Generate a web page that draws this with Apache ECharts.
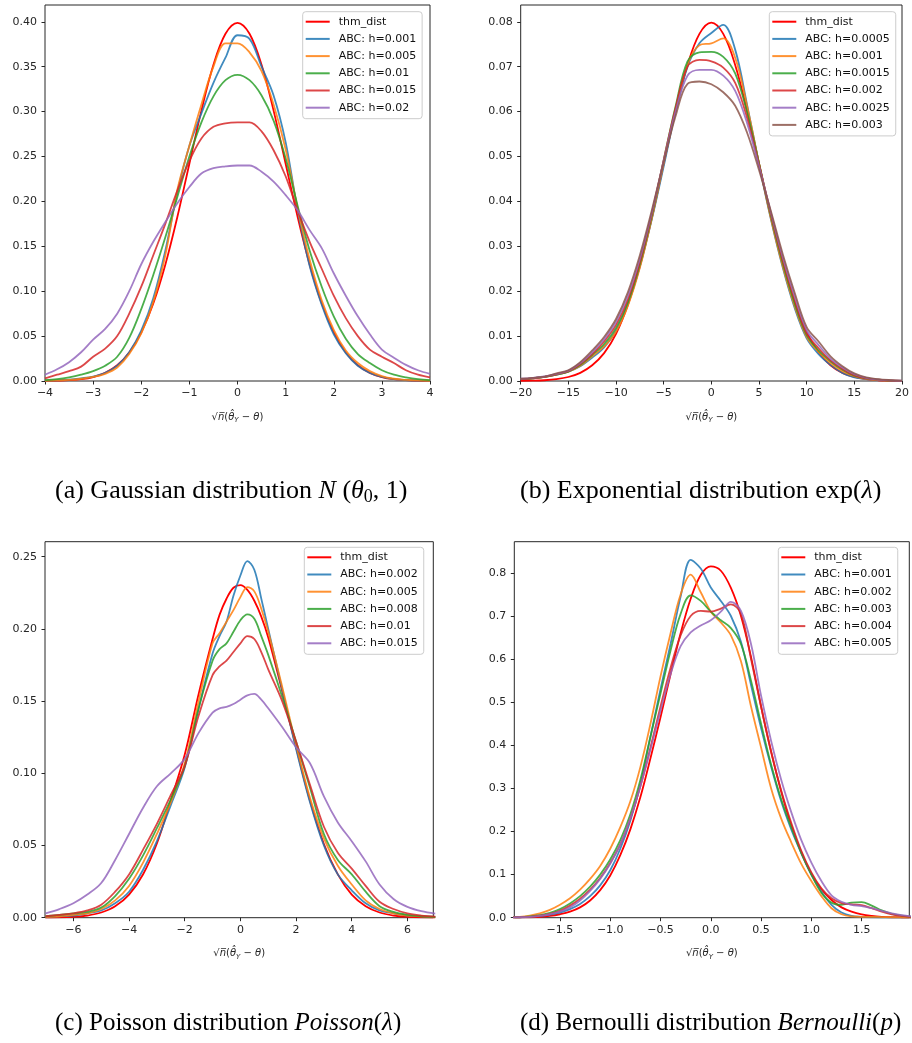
<!DOCTYPE html>
<html><head><meta charset="utf-8">
<script src="https://cdn.jsdelivr.net/npm/echarts@6/dist/echarts.min.js"></script>
<style>html,body{margin:0;padding:0;background:#fff}#c{width:912px;height:1043px}</style>
</head><body><div id="c"></div>
<script>
// ---------- (a) Gaussian ----------
const xsA = [-4,-3.75,-3.5,-3.25,-3,-2.75,-2.5,-2.25,-2,-1.75,-1.5,-1.25,-1,-0.75,-0.5,-0.25,0,0.25,0.5,0.75,1,1.25,1.5,1.75,2,2.25,2.5,2.75,3,3.25,3.5,3.75,4];
const gaussThm  = [0.0001,0.0004,0.0009,0.002,0.0044,0.0091,0.0175,0.0317,0.054,0.0863,0.1295,0.1826,0.242,0.3011,0.3521,0.3867,0.3989,0.3867,0.3521,0.3011,0.242,0.1826,0.1295,0.0863,0.054,0.0317,0.0175,0.0091,0.0044,0.002,0.0009,0.0004,0.0001];
const gaussH001 = [0.0003,0.0007,0.0015,0.003,0.005,0.009,0.017,0.032,0.056,0.092,0.145,0.21,0.262,0.298,0.332,0.36,0.385,0.381,0.35,0.318,0.266,0.19,0.128,0.085,0.052,0.031,0.017,0.009,0.0045,0.002,0.001,0.0005,0.0002];
const gaussH005 = [0.0003,0.0006,0.0012,0.0025,0.0045,0.008,0.015,0.03,0.053,0.088,0.14,0.213,0.262,0.308,0.35,0.376,0.376,0.366,0.345,0.308,0.258,0.192,0.135,0.09,0.057,0.034,0.02,0.011,0.0055,0.0025,0.0012,0.0006,0.0003];
const gaussH01  = [0.001,0.002,0.004,0.007,0.011,0.017,0.027,0.048,0.08,0.118,0.16,0.205,0.25,0.288,0.317,0.335,0.341,0.335,0.318,0.29,0.248,0.195,0.145,0.105,0.072,0.047,0.03,0.02,0.012,0.007,0.004,0.002,0.001];
const gaussH015 = [0.003,0.007,0.011,0.016,0.027,0.036,0.05,0.075,0.105,0.14,0.175,0.212,0.245,0.27,0.283,0.287,0.288,0.288,0.278,0.257,0.228,0.19,0.155,0.125,0.095,0.07,0.05,0.035,0.027,0.02,0.012,0.007,0.004];
const gaussH02  = [0.007,0.013,0.021,0.032,0.046,0.058,0.075,0.1,0.13,0.155,0.177,0.198,0.216,0.231,0.237,0.239,0.24,0.24,0.233,0.222,0.207,0.19,0.168,0.148,0.12,0.095,0.072,0.052,0.035,0.026,0.018,0.012,0.008];
const gaussNames = ['thm_dist','ABC: h=0.001','ABC: h=0.005','ABC: h=0.01','ABC: h=0.015','ABC: h=0.02'];
const aXTicks = [-4,-3,-2,-1,0,1,2,3,4];
const aYTicks = [0,0.05,0.10,0.15,0.20,0.25,0.30,0.35,0.40];

// ---------- (b) Exponential ----------
const xsB = [-20,-18.75,-17.5,-16.25,-15,-13.75,-12.5,-11.25,-10,-8.75,-7.5,-6.25,-5,-3.75,-2.5,-1.25,0,1.25,2.5,3.75,5,6.25,7.5,8.75,10,11.25,12.5,13.75,15,16.25,17.5,18.75,20];
const expThm   = [0.00003,0.00007,0.00017,0.00041,0.00089,0.00182,0.0035,0.0062,0.0105,0.017,0.0256,0.0363,0.0484,0.0602,0.0704,0.0773,0.0798,0.0773,0.0704,0.0602,0.0484,0.0365,0.0259,0.0173,0.0108,0.0064,0.0035,0.0018,0.0009,0.0004,0.00017,0.00007,0.00003];
const expH0005 = [0.0004,0.0006,0.0009,0.0014,0.0021,0.0033,0.0052,0.0075,0.0112,0.0172,0.0255,0.036,0.0478,0.06,0.07,0.0752,0.0775,0.0793,0.0738,0.0615,0.0483,0.036,0.0252,0.0162,0.0095,0.006,0.0036,0.0018,0.0008,0.0004,0.0002,0.0001,0.00005];
const expH001  = [0.0004,0.0006,0.0009,0.0014,0.0021,0.0034,0.0055,0.0077,0.011,0.0168,0.0252,0.0362,0.0485,0.0605,0.0705,0.0748,0.0752,0.0763,0.072,0.0612,0.0485,0.0362,0.0255,0.0166,0.0098,0.0065,0.004,0.0022,0.0011,0.0005,0.0002,0.0001,0.00005];
const expH0015 = [0.0004,0.0006,0.0009,0.0014,0.0021,0.0036,0.0058,0.0082,0.0118,0.0175,0.026,0.0368,0.0492,0.0612,0.0712,0.0732,0.0733,0.0722,0.0685,0.0598,0.0485,0.0368,0.0262,0.0172,0.0102,0.0068,0.0044,0.0025,0.0012,0.0006,0.0003,0.0001,0.00005];
const expH002  = [0.0004,0.0006,0.0009,0.0015,0.0022,0.0038,0.006,0.0088,0.0125,0.0182,0.0265,0.0372,0.0492,0.0608,0.07,0.0715,0.0712,0.0698,0.0664,0.0586,0.0482,0.0372,0.0268,0.018,0.0106,0.0073,0.0046,0.0027,0.0013,0.0006,0.0003,0.0001,0.00005];
const expH0025 = [0.0005,0.0007,0.001,0.0016,0.0023,0.004,0.0064,0.0093,0.0132,0.019,0.0272,0.0375,0.049,0.06,0.068,0.0693,0.0693,0.068,0.0646,0.0574,0.0478,0.0375,0.0275,0.0188,0.0113,0.008,0.005,0.003,0.0015,0.0007,0.0003,0.00015,0.00006];
const expH003  = [0.0005,0.0007,0.001,0.0017,0.0024,0.0042,0.0068,0.0098,0.0138,0.0198,0.028,0.038,0.0488,0.059,0.0662,0.0667,0.0661,0.0643,0.0613,0.0553,0.047,0.0378,0.0282,0.0196,0.012,0.0088,0.0055,0.0033,0.0017,0.0008,0.0004,0.0002,0.00008];
const expNames = ['thm_dist','ABC: h=0.0005','ABC: h=0.001','ABC: h=0.0015','ABC: h=0.002','ABC: h=0.0025','ABC: h=0.003'];
const bXTicks = [-20,-15,-10,-5,0,5,10,15,20];
const bYTicks = [0,0.01,0.02,0.03,0.04,0.05,0.06,0.07,0.08];

// ---------- (c) Poisson ----------
const xsC = [-7,-6.5,-6,-5.5,-5,-4.5,-4,-3.5,-3,-2.5,-2,-1.5,-1,-0.75,-0.5,-0.25,0,0.25,0.5,0.75,1,1.5,2,2.5,3,3.5,4,4.5,5,5.5,6,6.5,7];
const poisThm  = [0.0001,0.0002,0.0006,0.0015,0.0036,0.0079,0.016,0.0299,0.0514,0.0813,0.113,0.155,0.193,0.2097,0.2209,0.2285,0.2303,0.227,0.2195,0.2085,0.194,0.157,0.118,0.081,0.051,0.03,0.016,0.008,0.0036,0.0015,0.0006,0.0002,0.0001];
const poisH002 = [0.0005,0.001,0.0015,0.003,0.005,0.01,0.018,0.033,0.053,0.078,0.104,0.145,0.183,0.195,0.205,0.223,0.237,0.247,0.241,0.221,0.2,0.158,0.117,0.08,0.05,0.03,0.019,0.01,0.005,0.003,0.0015,0.001,0.0005];
const poisH005 = [0.0005,0.001,0.002,0.003,0.006,0.012,0.022,0.038,0.058,0.08,0.107,0.15,0.19,0.197,0.205,0.213,0.222,0.229,0.226,0.214,0.198,0.16,0.12,0.083,0.055,0.036,0.023,0.012,0.006,0.003,0.0015,0.001,0.0005];
const poisH008 = [0.001,0.002,0.003,0.004,0.007,0.015,0.027,0.043,0.062,0.082,0.105,0.145,0.178,0.186,0.19,0.198,0.206,0.21,0.207,0.195,0.182,0.153,0.122,0.09,0.058,0.04,0.03,0.018,0.008,0.004,0.002,0.001,0.0005];
const poisH01  = [0.001,0.002,0.003,0.005,0.009,0.018,0.03,0.047,0.065,0.085,0.105,0.14,0.168,0.174,0.178,0.184,0.19,0.195,0.193,0.184,0.172,0.15,0.122,0.092,0.063,0.045,0.034,0.022,0.011,0.006,0.003,0.0015,0.0007];
const poisH015 = [0.003,0.006,0.01,0.016,0.024,0.04,0.058,0.076,0.091,0.1,0.11,0.128,0.142,0.145,0.146,0.148,0.151,0.154,0.155,0.151,0.145,0.132,0.118,0.107,0.084,0.066,0.053,0.039,0.023,0.013,0.0075,0.0045,0.0028];
const poisNames = ['thm_dist','ABC: h=0.002','ABC: h=0.005','ABC: h=0.008','ABC: h=0.01','ABC: h=0.015'];
const cXTicks = [-6,-4,-2,0,2,4,6];
const cYTicks = [0,0.05,0.10,0.15,0.20,0.25];

// ---------- (d) Bernoulli ----------
const xsD = [-2,-1.9,-1.8,-1.7,-1.6,-1.5,-1.4,-1.3,-1.2,-1.1,-1,-0.9,-0.8,-0.7,-0.6,-0.5,-0.4,-0.3,-0.2,-0.1,0,0.1,0.2,0.3,0.4,0.5,0.6,0.7,0.8,0.9,1,1.1,1.2,1.3,1.4,1.5,1.6,1.7,1.8,1.9,2];
const bernThm  = [0.0002,0.0005,0.001,0.002,0.004,0.008,0.014,0.024,0.04,0.064,0.098,0.145,0.205,0.28,0.37,0.465,0.565,0.66,0.74,0.795,0.815,0.805,0.765,0.70,0.605,0.49,0.385,0.293,0.215,0.152,0.102,0.066,0.041,0.024,0.014,0.0075,0.004,0.002,0.001,0.0005,0.0002];
const bernH001 = [0.0005,0.001,0.002,0.004,0.007,0.012,0.02,0.032,0.05,0.075,0.11,0.16,0.225,0.31,0.42,0.53,0.635,0.745,0.83,0.81,0.766,0.735,0.70,0.64,0.54,0.44,0.35,0.27,0.205,0.15,0.10,0.06,0.03,0.012,0.004,0.002,0.001,0.0005,0.0003,0.0002,0.0001];
const bernH002 = [0.001,0.002,0.005,0.01,0.018,0.03,0.045,0.065,0.09,0.12,0.16,0.21,0.27,0.35,0.45,0.56,0.66,0.75,0.796,0.755,0.71,0.685,0.655,0.595,0.49,0.395,0.30,0.23,0.175,0.125,0.085,0.05,0.022,0.008,0.003,0.002,0.002,0.0015,0.001,0.0005,0.0003];
const bernH003 = [0.0005,0.001,0.003,0.006,0.011,0.02,0.033,0.05,0.072,0.1,0.135,0.18,0.24,0.32,0.42,0.52,0.62,0.705,0.748,0.735,0.71,0.69,0.672,0.635,0.55,0.45,0.355,0.275,0.21,0.15,0.1,0.058,0.035,0.03,0.035,0.036,0.028,0.017,0.009,0.005,0.002];
const bernH004 = [0.0005,0.001,0.002,0.005,0.009,0.016,0.028,0.044,0.065,0.092,0.127,0.17,0.23,0.305,0.395,0.49,0.58,0.655,0.7,0.712,0.71,0.717,0.727,0.705,0.6,0.49,0.385,0.295,0.22,0.155,0.105,0.068,0.045,0.034,0.031,0.029,0.022,0.014,0.008,0.004,0.002];
const bernH005 = [0.0005,0.001,0.002,0.004,0.008,0.014,0.024,0.04,0.062,0.09,0.125,0.17,0.23,0.305,0.39,0.48,0.565,0.63,0.662,0.678,0.69,0.71,0.733,0.712,0.635,0.515,0.41,0.32,0.245,0.18,0.128,0.085,0.052,0.037,0.03,0.027,0.022,0.016,0.01,0.006,0.003];
const bernNames = ['thm_dist','ABC: h=0.001','ABC: h=0.002','ABC: h=0.003','ABC: h=0.004','ABC: h=0.005'];
const dXTicks = [-1.5,-1.0,-0.5,0,0.5,1.0,1.5];
const dYTicks = [0,0.1,0.2,0.3,0.4,0.5,0.6,0.7,0.8];

// ---------- layout / style ----------
const COLORS = ['#ff0000','#1f77b4','#ff7f0e','#2ca02c','#d62728','#9467bd','#8c564b'];
const AX = '#262626', TX = '#262626';
const panels = [
  {key:'a', xs:xsA, names:gaussNames, ys:[gaussThm,gaussH001,gaussH005,gaussH01,gaussH015,gaussH02],
   grid:[45,5,385,376], xr:[-4,4], yr:[0,0.4187], xt:aXTicks, yt:aYTicks, xd:0, yd:2, lg:[302.7,11.7]},
  {key:'b', xs:xsB, names:expNames, ys:[expThm,expH0005,expH001,expH0015,expH002,expH0025,expH003],
   grid:[520.7,5,382,376], xr:[-20,20], yr:[0,0.08374], xt:bXTicks, yt:bYTicks, xd:0, yd:2, lg:[769.3,11.7]},
  {key:'c', xs:xsC, names:poisNames, ys:[poisThm,poisH002,poisH005,poisH008,poisH01,poisH015],
   grid:[45,541.7,388.3,376], xr:[-7.02,6.93], yr:[0,0.2604], xt:cXTicks, yt:cYTicks, xd:0, yd:2, lg:[304.3,547.3]},
  {key:'d', xs:xsD, names:bernNames, ys:[bernThm,bernH001,bernH002,bernH003,bernH004,bernH005],
   grid:[514.3,541.7,395,376], xr:[-1.954,1.974], yr:[0,0.8724], xt:dXTicks, yt:dYTicks, xd:1, yd:1, lg:[778.3,547.3]}
];
const fmt = d => v => Number(v).toFixed(d).replace('-', '\u2212');
const axisName = '{r|\u221A}{i|n\u0305}{r|(}{i|\u03B8\u0302}{s|Y}{r| \u2212 }{i|\u03B8}{r|)}';
const nameRich = {
  r:{fontFamily:'DejaVu Sans', fontSize:10, color:TX, lineHeight:14},
  i:{fontFamily:'DejaVu Sans', fontSize:10, fontStyle:'italic', color:TX, lineHeight:14},
  s:{fontFamily:'DejaVu Sans', fontSize:7, fontStyle:'italic', color:TX, lineHeight:8, verticalAlign:'bottom'}
};

const grids=[], xAxes=[], yAxes=[], series=[], legends=[];
panels.forEach((p,i)=>{
  grids.push({left:p.grid[0], top:p.grid[1], width:p.grid[2], height:p.grid[3], show:true, borderColor:AX, borderWidth:1, backgroundColor:'transparent'});
  xAxes.push({type:'value', gridIndex:i, min:p.xr[0], max:p.xr[1],
    splitLine:{show:false}, axisLine:{show:false, onZero:false},
    axisTick:{show:true, length:3.5, customValues:p.xt, lineStyle:{color:AX}},
    axisLabel:{customValues:p.xt, formatter:fmt(p.xd), margin:7, fontFamily:'DejaVu Sans', fontSize:11, color:TX, showMinLabel:true, showMaxLabel:true},
    name:axisName, nameLocation:'middle', nameGap:29, nameTextStyle:{rich:nameRich}});
  yAxes.push({type:'value', gridIndex:i, min:p.yr[0], max:p.yr[1],
    splitLine:{show:false}, axisLine:{show:false, onZero:false},
    axisTick:{show:true, length:3.5, customValues:p.yt, lineStyle:{color:AX}},
    axisLabel:{customValues:p.yt, formatter:fmt(p.yd), margin:8, fontFamily:'DejaVu Sans', fontSize:11, color:TX, showMinLabel:true, showMaxLabel:true}});
  p.ys.forEach((ys,k)=>{
    const col = COLORS[k];
    const op = k===0 ? 1 : 0.85;
    series.push({type:'line', name:p.key+'|'+p.names[k], xAxisIndex:i, yAxisIndex:i,
      data:p.xs.map((x,j)=>[x, ys[j]]), showSymbol:false, symbol:'none', smooth:0.35,
      clip:true, lineStyle:{color:col, width:1.8, opacity:op}, itemStyle:{color:col}, z:2+k});
  });
  legends.push({orient:'vertical', left:p.lg[0], top:p.lg[1], icon:'rect', itemWidth:24, itemHeight:2, itemGap:3.2,
    selectedMode:false, formatter:n=>n.split('|')[1],
    data:p.names.map((n,k)=>({name:p.key+'|'+n, itemStyle:{color:COLORS[k], opacity:k===0?1:0.85}})),
    textStyle:{fontFamily:'DejaVu Sans', fontSize:11, color:'#111', lineHeight:14, padding:[0,0,0,4]},
    padding:[3,6,4,3], backgroundColor:'rgba(255,255,255,0.8)', borderColor:'#cccccc', borderWidth:1, borderRadius:3});
});

const capFont = 'Liberation Serif';
const capRich = sz => ({
  n:{fontFamily:capFont, fontSize:sz, lineHeight:30, fill:'#000'},
  i:{fontFamily:capFont, fontSize:sz, fontStyle:'italic', lineHeight:30, fill:'#000'},
  s:{fontFamily:capFont, fontSize:Math.round(sz*0.7), lineHeight:24, verticalAlign:'bottom', fill:'#000'}
});
const captions = [
  {x:55,  y:491,  sz:26, t:'{n|(a) Gaussian distribution }{i|N}{n| (}{i|\u03B8}{s|0}{n|, 1)}'},
  {x:520, y:491,  sz:26, t:'{n|(b) Exponential distribution exp(}{i|\u03BB}{n|)}'},
  {x:55,  y:1023, sz:25, t:'{n|(c) Poisson distribution }{i|Poisson}{n|(}{i|\u03BB}{n|)}'},
  {x:520, y:1023, sz:25, t:'{n|(d) Bernoulli distribution }{i|Bernoulli}{n|(}{i|p}{n|)}'}
];

const chart = echarts.init(document.getElementById('c'), null, {renderer:'canvas'});
chart.setOption({
  animation:false, backgroundColor:'#fff',
  grid:grids, xAxis:xAxes, yAxis:yAxes, series:series, legend:legends,
  graphic:captions.map(c=>({type:'text', x:c.x, y:c.y, style:{text:c.t, rich:capRich(c.sz), fontFamily:capFont, fontSize:c.sz, verticalAlign:'middle', align:'left', fill:'#000'}}))
});
</script></body></html>
